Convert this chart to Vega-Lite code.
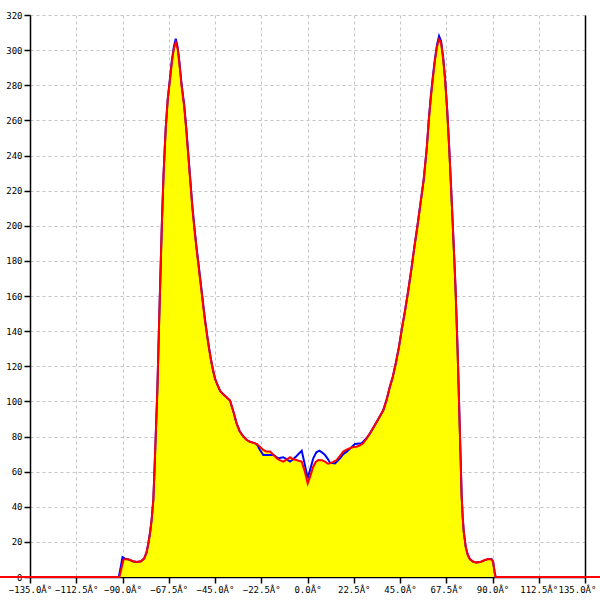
{
  "$schema": "https://vega.github.io/schema/vega-lite/v6.json",
  "width": 555,
  "height": 562,
  "autosize": {"type": "none"},
  "padding": {"left": 30, "top": 15, "right": 15, "bottom": 23},
  "background": "white",
  "config": {
    "view": {"stroke": null},
    "axis": {
      "labelFont": "DejaVu Sans Mono",
      "labelFontSize": 9,
      "labelColor": "#000000",
      "domainColor": "#000000",
      "domainWidth": 1.5,
      "tickColor": "#000000",
      "tickSize": 6,
      "tickWidth": 1.5,
      "gridColor": "#c4c4c4",
      "gridDash": [3, 3],
      "gridWidth": 1,
      "labelPadding": 2,
      "title": null
    }
  },
  "datasets": {
    "red": [
      {"a": -150, "v": 0}, {"a": -91.5, "v": 0}, {"a": -90.5, "v": 5}, {"a": -89.5, "v": 9.8}, {"a": -88.5, "v": 10.3},
      {"a": -87, "v": 10}, {"a": -85, "v": 9}, {"a": -83, "v": 8.6}, {"a": -81, "v": 9}, {"a": -79.5, "v": 10.5},
      {"a": -78.3, "v": 14}, {"a": -77.4, "v": 19}, {"a": -76.5, "v": 26}, {"a": -75.8, "v": 33}, {"a": -75, "v": 44},
      {"a": -74.4, "v": 62}, {"a": -73.7, "v": 85}, {"a": -73, "v": 108}, {"a": -72.3, "v": 140}, {"a": -71.6, "v": 170},
      {"a": -70.8, "v": 203}, {"a": -70, "v": 230}, {"a": -69, "v": 255}, {"a": -68, "v": 272}, {"a": -67, "v": 282},
      {"a": -66, "v": 293}, {"a": -65, "v": 301}, {"a": -64.1, "v": 304.5}, {"a": -63.2, "v": 301}, {"a": -62.3, "v": 292},
      {"a": -61.2, "v": 279}, {"a": -60, "v": 268}, {"a": -59, "v": 255}, {"a": -58, "v": 240}, {"a": -57, "v": 225},
      {"a": -56, "v": 210}, {"a": -55, "v": 198}, {"a": -54, "v": 187}, {"a": -53, "v": 177}, {"a": -52, "v": 167},
      {"a": -51, "v": 157}, {"a": -50, "v": 147}, {"a": -49, "v": 139}, {"a": -48, "v": 131}, {"a": -47, "v": 124},
      {"a": -46, "v": 118}, {"a": -45, "v": 113}, {"a": -44, "v": 110}, {"a": -42.5, "v": 106}, {"a": -41, "v": 104},
      {"a": -39.5, "v": 102.5}, {"a": -37.7, "v": 100.5}, {"a": -36, "v": 94}, {"a": -34.5, "v": 87.5}, {"a": -33, "v": 83},
      {"a": -31.2, "v": 80}, {"a": -29.5, "v": 78}, {"a": -28, "v": 77}, {"a": -26.5, "v": 76.5}, {"a": -24.7, "v": 75.7},
      {"a": -23, "v": 74}, {"a": -21.5, "v": 72.3}, {"a": -20, "v": 71.5}, {"a": -18.2, "v": 71.4}, {"a": -16.5, "v": 69.5},
      {"a": -15, "v": 67.6}, {"a": -13.5, "v": 66.5}, {"a": -11.8, "v": 65.7}, {"a": -10, "v": 67}, {"a": -8.5, "v": 68.2},
      {"a": -7, "v": 67}, {"a": -5.3, "v": 66.6}, {"a": -4, "v": 66}, {"a": -2.8, "v": 65.7}, {"a": -1.3, "v": 60},
      {"a": 0.1, "v": 53.3}, {"a": 1.5, "v": 58}, {"a": 2.8, "v": 62.8}, {"a": 4, "v": 65.5}, {"a": 5.3, "v": 66.6},
      {"a": 7, "v": 66.5}, {"a": 8.5, "v": 65.7}, {"a": 10, "v": 64.5}, {"a": 10.9, "v": 64.7}, {"a": 12.5, "v": 65.5},
      {"a": 14.2, "v": 66.6}, {"a": 15.8, "v": 69}, {"a": 17.4, "v": 71.4}, {"a": 19, "v": 72.5}, {"a": 20.7, "v": 73.3},
      {"a": 22.3, "v": 74}, {"a": 23.9, "v": 74.2}, {"a": 25.5, "v": 75}, {"a": 27.1, "v": 76.1}, {"a": 28.8, "v": 79},
      {"a": 30.4, "v": 81.8}, {"a": 32, "v": 85}, {"a": 33.7, "v": 88.4}, {"a": 35.3, "v": 91.7}, {"a": 36.9, "v": 95.1},
      {"a": 38.5, "v": 101}, {"a": 40.1, "v": 108.4}, {"a": 41.5, "v": 114}, {"a": 43, "v": 122}, {"a": 44.5, "v": 131},
      {"a": 46, "v": 142}, {"a": 47.5, "v": 152}, {"a": 49, "v": 163}, {"a": 50.5, "v": 175}, {"a": 52, "v": 188},
      {"a": 53.5, "v": 200}, {"a": 55, "v": 213}, {"a": 56.5, "v": 226}, {"a": 58, "v": 244}, {"a": 59, "v": 260},
      {"a": 60, "v": 273}, {"a": 61, "v": 284}, {"a": 62, "v": 294}, {"a": 63, "v": 302}, {"a": 64, "v": 306},
      {"a": 65, "v": 304}, {"a": 66, "v": 295}, {"a": 67, "v": 282}, {"a": 68, "v": 265}, {"a": 69, "v": 243},
      {"a": 70, "v": 218}, {"a": 71, "v": 192}, {"a": 72, "v": 165}, {"a": 73, "v": 130}, {"a": 74, "v": 88},
      {"a": 75, "v": 46}, {"a": 75.5, "v": 34}, {"a": 76, "v": 26}, {"a": 77, "v": 17}, {"a": 78, "v": 12.5},
      {"a": 79, "v": 10.2}, {"a": 80.5, "v": 8.8}, {"a": 82, "v": 8.2}, {"a": 84, "v": 8.5}, {"a": 86, "v": 9.5},
      {"a": 88, "v": 10.2}, {"a": 89.5, "v": 10}, {"a": 90.3, "v": 8.5}, {"a": 91, "v": 3}, {"a": 91.5, "v": 0},
      {"a": 150, "v": 0}
    ],
    "blue": [
      {"a": -150, "v": 0}, {"a": -91.8, "v": 0}, {"a": -90.8, "v": 6}, {"a": -90, "v": 11.3}, {"a": -89, "v": 10.6},
      {"a": -87, "v": 10}, {"a": -85, "v": 9}, {"a": -83, "v": 8.6}, {"a": -81, "v": 9}, {"a": -79.5, "v": 10.5},
      {"a": -78.3, "v": 14}, {"a": -77.4, "v": 19.5}, {"a": -76.5, "v": 26}, {"a": -75.8, "v": 33}, {"a": -75, "v": 44},
      {"a": -74.4, "v": 62}, {"a": -73.7, "v": 85}, {"a": -73, "v": 108}, {"a": -72.3, "v": 140}, {"a": -71.6, "v": 170},
      {"a": -70.8, "v": 203}, {"a": -70, "v": 230}, {"a": -69, "v": 255}, {"a": -68, "v": 272}, {"a": -67, "v": 283},
      {"a": -66, "v": 294}, {"a": -65, "v": 302}, {"a": -64.1, "v": 306.5}, {"a": -63.2, "v": 302}, {"a": -62.3, "v": 293},
      {"a": -61.2, "v": 280}, {"a": -60, "v": 269}, {"a": -59, "v": 256}, {"a": -58, "v": 241}, {"a": -57, "v": 226},
      {"a": -56, "v": 211}, {"a": -55, "v": 199}, {"a": -54, "v": 188}, {"a": -53, "v": 178}, {"a": -52, "v": 168},
      {"a": -51, "v": 158}, {"a": -50, "v": 148}, {"a": -49, "v": 139}, {"a": -48, "v": 131}, {"a": -47, "v": 124},
      {"a": -46, "v": 118}, {"a": -45, "v": 113}, {"a": -44, "v": 110}, {"a": -42.5, "v": 106}, {"a": -41, "v": 104},
      {"a": -39.5, "v": 102.5}, {"a": -37.7, "v": 100.5}, {"a": -36, "v": 94}, {"a": -34.5, "v": 87.5}, {"a": -33, "v": 83},
      {"a": -31.2, "v": 80}, {"a": -29.5, "v": 78}, {"a": -28, "v": 77}, {"a": -26.5, "v": 76.5}, {"a": -24.7, "v": 75.7},
      {"a": -23.1, "v": 72.3}, {"a": -21.5, "v": 69.5}, {"a": -19, "v": 69.5}, {"a": -16.6, "v": 69.5}, {"a": -14.2, "v": 67.6},
      {"a": -11.8, "v": 68.2}, {"a": -10, "v": 67}, {"a": -8.5, "v": 65.7}, {"a": -7, "v": 67}, {"a": -5.3, "v": 68.9},
      {"a": -4, "v": 70.5}, {"a": -2.8, "v": 71.9}, {"a": -1.3, "v": 64}, {"a": 0.1, "v": 56.2}, {"a": 1.5, "v": 62},
      {"a": 2.8, "v": 67.6}, {"a": 4.3, "v": 71}, {"a": 5.8, "v": 71.9}, {"a": 7, "v": 71}, {"a": 8.5, "v": 69.5},
      {"a": 10, "v": 67}, {"a": 10.9, "v": 65.1}, {"a": 13.4, "v": 64.7}, {"a": 15.8, "v": 67.6}, {"a": 17.4, "v": 70},
      {"a": 19.1, "v": 71.4}, {"a": 21, "v": 73.5}, {"a": 23.1, "v": 75.7}, {"a": 26.3, "v": 76.1}, {"a": 28.7, "v": 79},
      {"a": 30.4, "v": 81.8}, {"a": 32, "v": 85}, {"a": 33.7, "v": 88.4}, {"a": 35.3, "v": 91.7}, {"a": 36.9, "v": 95.1},
      {"a": 38.5, "v": 101}, {"a": 40.1, "v": 108.4}, {"a": 41.5, "v": 114}, {"a": 43, "v": 122}, {"a": 44.5, "v": 131},
      {"a": 46, "v": 142}, {"a": 47.5, "v": 152}, {"a": 49, "v": 163}, {"a": 50.5, "v": 175}, {"a": 52, "v": 188},
      {"a": 53.5, "v": 200}, {"a": 55, "v": 213}, {"a": 56.5, "v": 226}, {"a": 58, "v": 244}, {"a": 59, "v": 260},
      {"a": 60, "v": 274}, {"a": 61, "v": 285}, {"a": 62, "v": 295}, {"a": 63, "v": 303}, {"a": 64, "v": 308},
      {"a": 65, "v": 305}, {"a": 66, "v": 296}, {"a": 67, "v": 283}, {"a": 68, "v": 265}, {"a": 69, "v": 243},
      {"a": 70, "v": 218}, {"a": 71, "v": 192}, {"a": 72, "v": 165}, {"a": 73, "v": 130}, {"a": 74, "v": 88},
      {"a": 75, "v": 46}, {"a": 75.5, "v": 34}, {"a": 76, "v": 26}, {"a": 77, "v": 17}, {"a": 78, "v": 12.5},
      {"a": 79, "v": 10.2}, {"a": 80.5, "v": 8.8}, {"a": 82, "v": 8.2}, {"a": 84, "v": 8.5}, {"a": 86, "v": 9.5},
      {"a": 88, "v": 10.3}, {"a": 89.5, "v": 10.2}, {"a": 90.3, "v": 8.7}, {"a": 91, "v": 3}, {"a": 91.5, "v": 0},
      {"a": 150, "v": 0}
    ]
  },
  "resolve": {"axis": {"y": "independent", "x": "independent"}},
  "layer": [
    {
      "data": {"name": "red"},
      "mark": {"type": "area", "color": "#ffff00", "opacity": 1},
      "encoding": {
        "x": {"field": "a", "type": "quantitative",
              "scale": {"domain": [-135, 135], "nice": false, "zero": false},
              "axis": {"orient": "bottom", "values": [-135, -112.5, -90, -67.5, -45, -22.5, 0, 22.5, 45, 67.5, 90, 112.5, 135],
                       "labelExpr": "format(datum.value, '.1f') + 'Â°'", "grid": true, "labelFlush": false, "labelOverlap": false,
                       "labelOffset": {"condition": {"test": "datum.value == 135", "value": -8}, "value": 0}}},
        "y": {"field": "v", "type": "quantitative",
              "scale": {"domain": [0, 320], "nice": false},
              "axis": {"orient": "left", "values": [0, 20, 40, 60, 80, 100, 120, 140, 160, 180, 200, 220, 240, 260, 280, 300, 320],
                       "grid": true, "labelFlush": false, "labelOverlap": false}}
      }
    },
    {
      "data": {"name": "blue"},
      "mark": {"type": "line", "color": "#0000ff", "strokeWidth": 2},
      "encoding": {
        "x": {"field": "a", "type": "quantitative", "axis": null},
        "y": {"field": "v", "type": "quantitative", "axis": null}
      }
    },
    {
      "data": {"name": "red"},
      "mark": {"type": "line", "color": "#ff0000", "strokeWidth": 2},
      "encoding": {
        "x": {"field": "a", "type": "quantitative", "axis": null},
        "y": {"field": "v", "type": "quantitative",
              "axis": {"orient": "right", "labels": false, "ticks": false, "grid": false, "domain": true}}
      }
    }
  ]
}
